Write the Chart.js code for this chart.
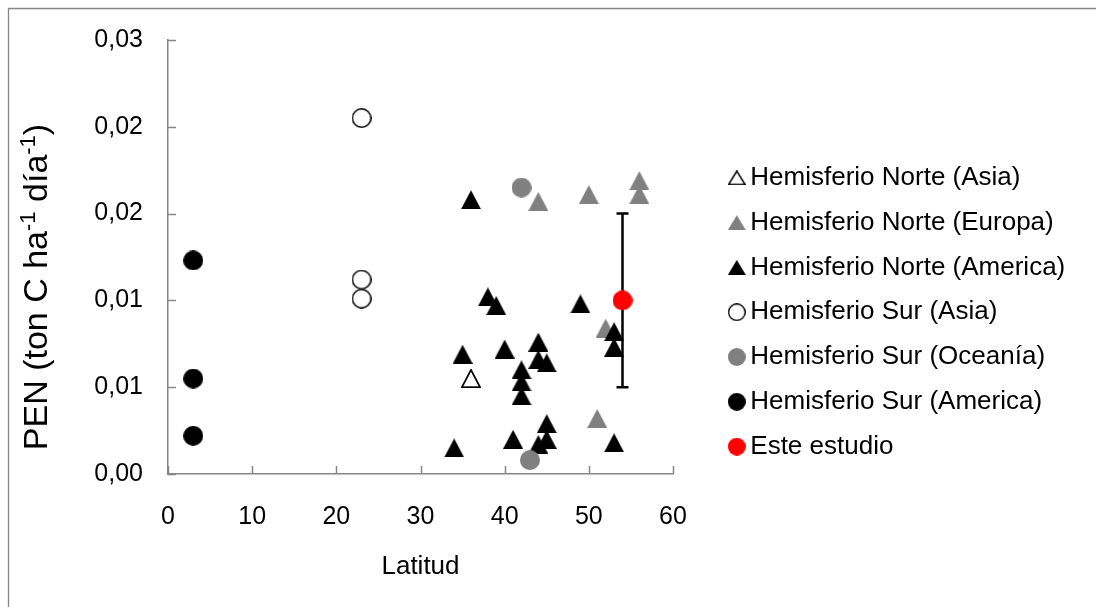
<!DOCTYPE html>
<html>
<head>
<meta charset="utf-8">
<script src="https://cdn.jsdelivr.net/npm/chart.js@4"></script>
<style>
  html, body { margin: 0; padding: 0; background: #ffffff; }
  canvas { display: block; }
</style>
</head>
<body>
<canvas id="chart" width="1096" height="607"></canvas>
<script>
// Series names, as shown in the legend
const seriesLabels = [
  'Hemisferio Norte (Asia)',
  'Hemisferio Norte (Europa)',
  'Hemisferio Norte (America)',
  'Hemisferio Sur (Asia)',
  'Hemisferio Sur (Oceanía)',
  'Hemisferio Sur (America)',
  'Este estudio'
];

// Latitude (x) and PEN (y) per series
const latNorteAsia = [36];
const penNorteAsia = [0.0055];

const latNorteEuropa = [44, 50, 56, 56, 52, 51];
const penNorteEuropa = [0.0157, 0.0161, 0.0169, 0.0161, 0.0084, 0.0032];

const latNorteAmerica = [36, 38, 39, 35, 40, 42, 42, 42, 44, 44, 45, 34, 41, 44, 45, 45, 49, 53, 53, 53];
const penNorteAmerica = [0.0158, 0.0102, 0.0097, 0.0069, 0.0072, 0.0060, 0.0053, 0.0045, 0.0076, 0.0066,
                         0.0064, 0.0015, 0.0020, 0.0017, 0.0020, 0.0029, 0.0098, 0.0082, 0.0073, 0.0018];

const latSurAsia = [23, 23, 23];
const penSurAsia = [0.0205, 0.0112, 0.0101];

const latSurOceania = [42, 43];
const penSurOceania = [0.0165, 0.0008];

const latSurAmerica = [3, 3, 3];
const penSurAmerica = [0.0123, 0.0055, 0.0022];

const latEsteEstudio = [54];
const penEsteEstudio = [0.010];
const errEsteEstudio = [0.005];

// Axis ticks
const xTickValues = [0, 10, 20, 30, 40, 50, 60];
const xTickLabels = ['0', '10', '20', '30', '40', '50', '60'];
const yTickValues = [0, 0.005, 0.010, 0.015, 0.020, 0.025];
const yTickLabels = ['0,00', '0,01', '0,01', '0,02', '0,02', '0,03'];

// Axis titles
const xTitle = 'Latitud';
const yTitleParts = [
  { text: 'PEN (ton C ha', sup: false },
  { text: '-1', sup: true },
  { text: ' día', sup: false },
  { text: '-1', sup: true },
  { text: ')', sup: false }
];

const FONT = "'Liberation Sans', Arial, sans-serif";
const AXIS_GRAY = '#868686';
const MARK_GRAY = '#808080';

function pairUp(xs, ys) {
  return xs.map((x, i) => ({ x: x, y: ys[i] }));
}

// Marker bitmaps: triangles sit centred in their box, circles fill it
function marker(shape, w, h, fill, stroke, lw) {
  const c = document.createElement('canvas');
  c.width = w; c.height = h;
  const g = c.getContext('2d');
  const inset = stroke ? lw / 2 : 0;
  g.beginPath();
  if (shape === 'triangle') {
    g.moveTo(w / 2, inset);
    g.lineTo(w - inset, h - inset);
    g.lineTo(inset, h - inset);
    g.closePath();
  } else {
    g.arc(w / 2, h / 2, w / 2 - inset, 0, Math.PI * 2);
  }
  if (fill) { g.fillStyle = fill; g.fill(); }
  if (stroke) { g.lineWidth = lw; g.strokeStyle = stroke; g.stroke(); }
  return c;
}

const plotMarkers = [
  marker('triangle', 20, 19, '#ffffff', '#000000', 1.8),
  marker('triangle', 20, 19, MARK_GRAY),
  marker('triangle', 20, 19, '#000000'),
  marker('circle', 20, 20, '#ffffff', '#000000', 1.5),
  marker('circle', 20, 20, MARK_GRAY),
  marker('circle', 20, 20, '#000000'),
  marker('circle', 20, 20, '#ff0000')
];
const legendMarkers = [
  marker('triangle', 18, 15, '#ffffff', '#000000', 1.6),
  marker('triangle', 18, 15, MARK_GRAY),
  marker('triangle', 18, 15, '#000000'),
  marker('circle', 18, 18, '#ffffff', '#000000', 1.4),
  marker('circle', 18, 18, MARK_GRAY),
  marker('circle', 18, 18, '#000000'),
  marker('circle', 18, 18, '#ff0000')
];

const seriesPoints = [
  pairUp(latNorteAsia, penNorteAsia),
  pairUp(latNorteEuropa, penNorteEuropa),
  pairUp(latNorteAmerica, penNorteAmerica),
  pairUp(latSurAsia, penSurAsia),
  pairUp(latSurOceania, penSurOceania),
  pairUp(latSurAmerica, penSurAmerica),
  pairUp(latEsteEstudio, penEsteEstudio)
];

const datasets = seriesPoints.map((pts, i) => ({
  label: seriesLabels[i],
  data: pts,
  pointStyle: plotMarkers[i],
  pointRadius: 10,
  showLine: false,
  order: -i            // later series are painted over earlier ones
}));

// White page with the outer chart frame
const framePlugin = {
  id: 'frame',
  beforeDraw(chart) {
    const ctx = chart.ctx;
    ctx.save();
    ctx.fillStyle = '#ffffff';
    ctx.fillRect(0, 0, chart.width, chart.height);
    ctx.strokeStyle = AXIS_GRAY;
    ctx.lineWidth = 1.3;
    ctx.beginPath();
    ctx.moveTo(8.5, chart.height + 2);
    ctx.lineTo(8.5, 8.5);
    ctx.lineTo(chart.width + 2, 8.5);
    ctx.stroke();
    ctx.restore();
  }
};

// Major tick marks pointing into the plot area
const insideTicksPlugin = {
  id: 'insideTicks',
  beforeDatasetsDraw(chart) {
    const { ctx, scales: { x, y } } = chart;
    const len = 8;
    ctx.save();
    ctx.strokeStyle = AXIS_GRAY;
    ctx.lineWidth = 1.5;
    ctx.beginPath();
    xTickValues.forEach(v => {
      const px = Math.round(x.getPixelForValue(v)) + 0.5;
      ctx.moveTo(px, y.bottom);
      ctx.lineTo(px, y.bottom - len);
    });
    yTickValues.forEach(v => {
      const py = Math.round(y.getPixelForValue(v)) + 0.5;
      ctx.moveTo(x.left, py);
      ctx.lineTo(x.left + len, py);
    });
    ctx.stroke();
    ctx.restore();
  }
};

// Vertical error bar with caps for the study's own value
const errorBarPlugin = {
  id: 'errorBars',
  beforeDatasetsDraw(chart) {
    const { ctx, scales: { x, y } } = chart;
    const cap = 6;
    ctx.save();
    ctx.strokeStyle = '#000000';
    ctx.lineWidth = 2.5;
    latEsteEstudio.forEach((lat, i) => {
      const px = x.getPixelForValue(lat);
      const top = y.getPixelForValue(penEsteEstudio[i] + errEsteEstudio[i]);
      const bot = y.getPixelForValue(penEsteEstudio[i] - errEsteEstudio[i]);
      ctx.beginPath();
      ctx.moveTo(px, top); ctx.lineTo(px, bot);
      ctx.moveTo(px - cap, top); ctx.lineTo(px + cap, top);
      ctx.moveTo(px - cap, bot); ctx.lineTo(px + cap, bot);
      ctx.stroke();
    });
    ctx.restore();
  }
};

// Rotated y-axis title with superscript exponents
const yTitlePlugin = {
  id: 'yTitle',
  afterDraw(chart) {
    const ctx = chart.ctx;
    const size = 34, supSize = 22, rise = 12;
    const cx = 47, cy = 287;
    ctx.save();
    ctx.translate(cx, cy);
    ctx.rotate(-Math.PI / 2);
    ctx.fillStyle = '#000000';
    ctx.textBaseline = 'alphabetic';
    ctx.textAlign = 'left';
    let total = 0;
    yTitleParts.forEach(p => {
      ctx.font = (p.sup ? supSize : size) + 'px ' + FONT;
      total += ctx.measureText(p.text).width;
    });
    let pos = -total / 2;
    yTitleParts.forEach(p => {
      ctx.font = (p.sup ? supSize : size) + 'px ' + FONT;
      ctx.fillText(p.text, pos, p.sup ? -rise : 0);
      pos += ctx.measureText(p.text).width;
    });
    ctx.restore();
  }
};

// Place the legend block to the right of the plot
const legendPlacePlugin = {
  id: 'legendPlace',
  afterLayout(chart) {
    const lg = chart.legend;
    if (!lg) return;
    lg.left = 717.5;
    lg.top = 146;
    lg.right = chart.width;
    lg.bottom = chart.height;
    lg.width = lg.right - lg.left;
    lg.height = lg.bottom - lg.top;
  }
};

new Chart(document.getElementById('chart'), {
  type: 'scatter',
  data: { datasets: datasets },
  plugins: [framePlugin, insideTicksPlugin, errorBarPlugin, yTitlePlugin, legendPlacePlugin],
  options: {
    responsive: false,
    devicePixelRatio: 1,
    animation: false,
    events: [],
    layout: { padding: { top: 37, left: 0, right: 423, bottom: 0 } },
    scales: {
      x: {
        type: 'linear',
        min: 0, max: 60,
        afterBuildTicks(scale) { scale.ticks = xTickValues.map(v => ({ value: v })); },
        afterFit(scale) { scale.height = 133; },
        grid: { display: false, drawTicks: false },
        border: { display: true, color: AXIS_GRAY, width: 1.5 },
        ticks: {
          padding: 28,
          color: '#000000',
          font: { family: FONT, size: 25 },
          maxRotation: 0,
          callback: (v, i) => xTickLabels[i]
        },
        title: {
          display: true,
          text: xTitle,
          color: '#000000',
          font: { family: FONT, size: 26 },
          padding: { top: 0, bottom: 25 }
        }
      },
      y: {
        type: 'linear',
        min: 0, max: 0.025,
        afterBuildTicks(scale) { scale.ticks = yTickValues.map(v => ({ value: v })); },
        afterFit(scale) { scale.width = 168; },
        grid: { display: false, drawTicks: false },
        border: { display: true, color: AXIS_GRAY, width: 1.5 },
        ticks: {
          padding: 25,
          color: '#000000',
          font: { family: FONT, size: 25 },
          callback: (v, i) => yTickLabels[i]
        }
      }
    },
    plugins: {
      tooltip: { enabled: false },
      legend: {
        display: true,
        position: 'chartArea',
        align: 'start',
        labels: {
          usePointStyle: true,
          boxWidth: 1,
          boxHeight: 12,
          padding: 18.8,
          color: '#000000',
          font: { family: FONT, size: 26 },
          sort: (a, b) => a.datasetIndex - b.datasetIndex,
          generateLabels(chart) {
            const items = Chart.defaults.plugins.legend.labels.generateLabels(chart);
            items.forEach(it => { it.pointStyle = legendMarkers[it.datasetIndex]; });
            return items;
          }
        }
      }
    }
  }
});
</script>
</body>
</html>
